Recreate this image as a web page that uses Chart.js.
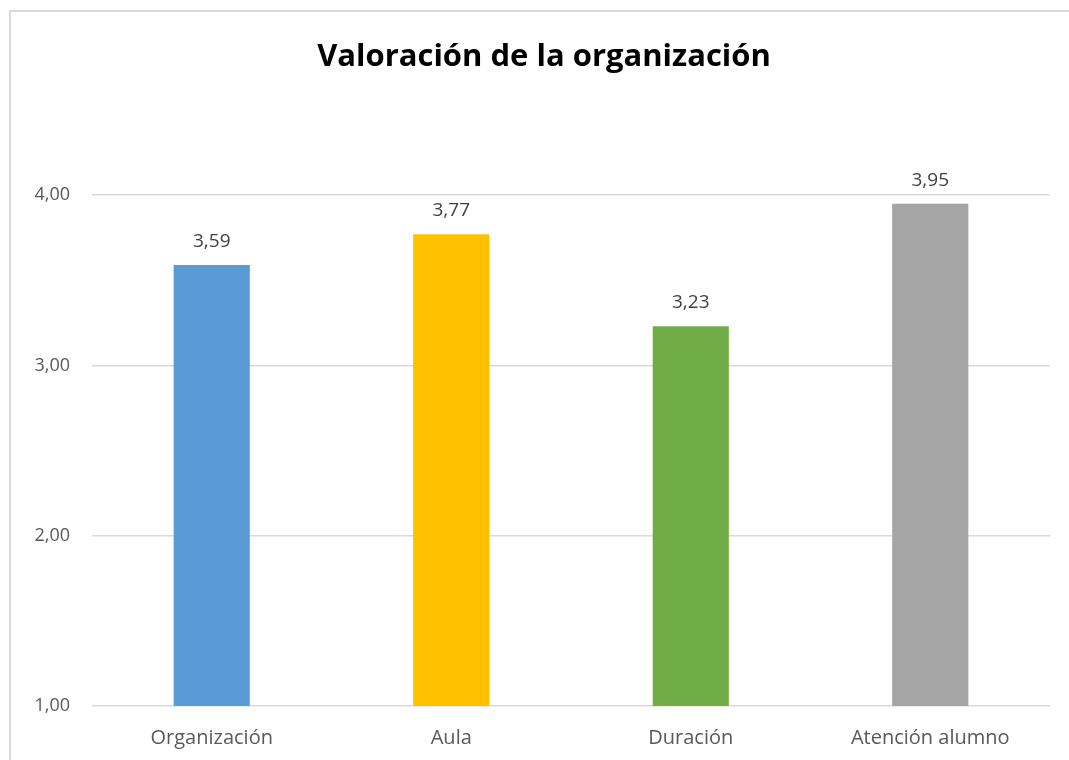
<!DOCTYPE html>
<html>
<head>
<meta charset="utf-8">
<title>Valoración de la organización</title>
<script src="https://cdn.jsdelivr.net/npm/chart.js@4/dist/chart.umd.min.js"></script>
<style>
  html, body { margin: 0; padding: 0; background: #ffffff; overflow: hidden; }
  #box { position: absolute; left: 0; top: 0; width: 1069px; height: 760px; }
</style>
</head>
<body>
<div id="box"><canvas id="myChart" width="1069" height="760"></canvas></div>
<script>
'use strict';

// Data :
var categories = ['Organización', 'Aula', 'Duración', 'Atención alumno'];
var values = [3.59, 3.77, 3.23, 3.95];
var barColors = ['#5B9BD5', '#FFC000', '#70AD47', '#A5A5A5'];
var yTicks = [1, 2, 3, 4];

function formatComma(v) {
  return v.toFixed(2).replace('.', ',');
}

// light frame round the chart (only left and top edges are in view)
var chartFrame = {
  id: 'chartFrame',
  afterLayout: function(chart) {
    // title in the original is centred on the whole frame, a bit right of the canvas middle
    if (chart.titleBlock) {
      chart.titleBlock.left = 38;
    }
  },
  beforeDraw: function(chart) {
    var c = chart.ctx;
    c.save();
    c.strokeStyle = '#d9d9d9';
    c.lineWidth = 2;
    c.beginPath();
    c.moveTo(10, chart.height);
    c.lineTo(10, 11);
    c.lineTo(chart.width, 11);
    c.stroke();
    c.restore();
  }
};

// draws the value above each bar
var valueLabels = {
  id: 'valueLabels',
  afterDatasetsDraw: function(chart) {
    var c = chart.ctx;
    var meta = chart.getDatasetMeta(0);
    c.save();
    c.font = '19px "Open Sans"';
    c.fillStyle = '#404040';
    c.textAlign = 'center';
    c.textBaseline = 'alphabetic';
    for (var i = 0; i < meta.data.length; i++) {
      var bar = meta.data[i];
      c.fillText(formatComma(values[i]), bar.x, bar.y - 18);
    }
    c.restore();
  }
};

var ctx = document.getElementById('myChart').getContext('2d');
var myChart = new Chart(ctx, { //eslint-disable-line
  type: 'bar',
  data: {
    labels: categories,
    datasets: [{
      data: values,
      backgroundColor: barColors,
      categoryPercentage: 1,
      barPercentage: 0.318
    }]
  },
  options: {
    responsive: false,
    animation: false,
    layout: { padding: { left: 19, right: 19, top: 0, bottom: 0 } },
    plugins: {
      legend: { display: false },
      tooltip: { enabled: false },
      title: {
        display: true,
        text: 'Valoración de la organización',
        color: '#000000',
        font: { family: 'Open Sans', size: 31, weight: 'bold' },
        padding: { top: 39, bottom: 119 }
      }
    },
    scales: {
      x: {
        grid: { display: false },
        border: { display: false },
        ticks: {
          color: '#595959',
          font: { family: 'Open Sans', size: 20 },
          padding: 12
        },
        afterFit: function(axis) { axis.height = 54; }
      },
      y: {
        min: 1,
        max: 4,
        afterBuildTicks: function(axis) {
          axis.ticks = yTicks.map(function(v) { return { value: v }; });
        },
        grid: { color: '#d9d9d9', lineWidth: 1.5, drawTicks: false },
        border: { display: false },
        ticks: {
          color: '#595959',
          font: { family: 'Open Sans', size: 18 },
          padding: 22,
          callback: function(v) { return formatComma(v); }
        },
        afterFit: function(axis) { axis.width = 73; }
      }
    }
  },
  plugins: [chartFrame, valueLabels]
});
</script>
</body>
</html>
